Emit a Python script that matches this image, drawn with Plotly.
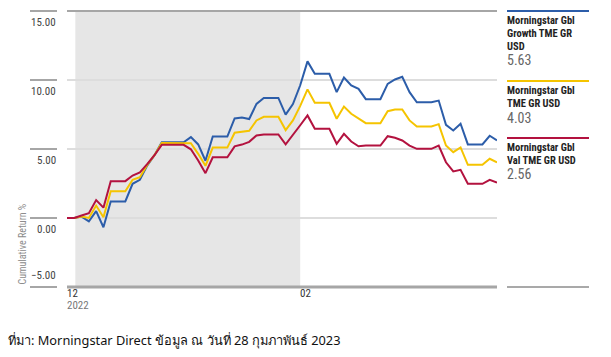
import plotly.graph_objects as go

# ---------------- data ----------------
period_index = list(range(60))
growth = [0, 0, 0.1, -0.25, 0.5, -0.67, 1.2, 1.2, 1.2, 2.48, 2.77, 3.8, 4.55, 5.49, 5.49, 5.49, 5.49,
          5.86, 5.33, 4.15, 5.9, 5.9, 5.9, 7.21, 7.28, 7.17, 8.27, 8.7, 8.7, 8.7, 7.49, 8.25, 9.62,
          11.35, 10.45, 10.45, 10.45, 9.12, 10.18, 9.6, 9.36, 8.61, 8.61, 8.61, 9.72, 10.04, 10.23,
          9.12, 8.39, 8.39, 8.39, 8.51, 6.75, 6.34, 6.83, 5.33, 5.33, 5.33, 5.96, 5.63]
core = [0, 0, 0.1, 0.0, 0.9, 0.05, 1.94, 1.94, 1.94, 2.77, 2.96, 3.85, 4.55, 5.43, 5.43, 5.43, 5.43,
        5.42, 4.65, 3.78, 5.1, 5.1, 5.1, 6.18, 6.25, 6.32, 7.07, 7.33, 7.33, 7.33, 6.37, 7.07, 8.12,
        9.32, 8.35, 8.35, 8.35, 7.19, 8.08, 7.55, 7.23, 6.87, 6.87, 6.87, 7.74, 7.86, 7.86,
        7.07, 6.63, 6.63, 6.63, 6.8, 5.25, 4.77, 5.11, 3.85, 3.85, 3.85, 4.29, 4.03]
value = [0, 0, 0.18, 0.35, 1.3, 0.75, 2.67, 2.67, 2.67, 3.08, 3.3, 3.9, 4.55, 5.3, 5.3, 5.3, 5.3,
         4.98, 4.17, 3.25, 4.4, 4.4, 4.4, 5.19, 5.32, 5.52, 5.98, 6.05, 6.05, 6.05, 5.33, 6.07, 6.72,
         7.43, 6.46, 6.46, 6.46, 5.38, 6.1, 5.54, 5.2, 5.25, 5.25, 5.25, 5.93, 5.81, 5.62,
         5.25, 5.01, 5.01, 5.01, 5.25, 4.04, 3.37, 3.49, 2.48, 2.48, 2.48, 2.77, 2.56]

series_names = [["Morningstar Gbl", "Growth TME GR", "USD"],
                ["Morningstar Gbl", "TME GR USD"],
                ["Morningstar Gbl", "Val TME GR USD"]]
series_values = [growth, core, value]
series_colors = ["#2C5DA9", "#F5C400", "#B3123F"]

y_ticks = [15, 10, 5, 0, -5]
y_tick_labels = ["15.00", "10.00", "5.00", "0.00", "\u22125.00"]
month_labels = ["12", "02"]
month_sub_labels = ["2022", ""]
month_start_index = [0, 32]
shade_start, shade_end = 1.14, 32.0

source_text = "ที่มา: Morningstar Direct ข้อมูล ณ วันที่ 28 กุมภาพันธ์ 2023"

# ---------------- layout helpers ----------------
W, H = 611, 357
L, R, T, B = 67, 497, 11, 287
YMIN, YMAX = -5, 15
XMIN, XMAX = 0, 59


def px(p):
    return (p - L) / (R - L)


def py(p):
    return (B - p) / (B - T)


def vy(v):
    return (v - YMIN) / (YMAX - YMIN)


NARROW = "Roboto Condensed, Open Sans Condensed, sans-serif"

fig = go.Figure()
for vals, names, col in zip(series_values, series_names, series_colors):
    fig.add_trace(go.Scatter(x=period_index, y=vals, mode="lines",
                             line=dict(color=col, width=2), name=" ".join(names),
                             hoverinfo="skip", showlegend=False))

shapes = []
annotations = []

# shaded month band
shapes.append(dict(type="rect", xref="x", yref="paper", x0=shade_start, x1=shade_end, y0=0, y1=1,
                   fillcolor="#E6E6E6", line=dict(width=0), layer="below"))

# y stubs and labels
for v, lab in zip(y_ticks, y_tick_labels):
    shapes.append(dict(type="line", xref="paper", yref="paper", x0=px(30), x1=px(57),
                       y0=vy(v), y1=vy(v), line=dict(color="#A6A6A6", width=2)))
    if v == YMIN:
        yanchor, yy = "bottom", vy(v) + 3 / (B - T)
    else:
        yanchor, yy = "top", vy(v) - 3 / (B - T)
    annotations.append(dict(text=lab, xref="paper", yref="paper", x=px(58), y=yy,
                            xanchor="right", yanchor=yanchor, showarrow=False,
                            font=dict(family=NARROW, size=11, color="#444444")))

# top and bottom frame lines
shapes.append(dict(type="line", xref="paper", yref="paper", x0=0, x1=1, y0=1, y1=1,
                   line=dict(color="#A6A6A6", width=2)))
shapes.append(dict(type="line", xref="paper", yref="paper", x0=0, x1=1, y0=0, y1=0,
                   line=dict(color="#A6A6A6", width=3)))

# axis title
annotations.append(dict(text="Cumulative Return %", xref="paper", yref="paper", x=px(22), y=py(287),
                        xanchor="center", yanchor="bottom", textangle=-90, showarrow=False,
                        font=dict(family=NARROW, size=10, color="#8C8C8C")))

# month labels
for idx, lab, sub in zip(month_start_index, month_labels, month_sub_labels):
    annotations.append(dict(text=lab, xref="x", yref="paper", x=idx, y=py(293),
                            xanchor="left", yanchor="middle", showarrow=False, xshift=-2,
                            font=dict(family=NARROW, size=11, color="#333333")))
    if sub:
        annotations.append(dict(text=sub, xref="x", yref="paper", x=idx, y=py(305),
                                xanchor="left", yanchor="middle", showarrow=False, xshift=-2,
                                font=dict(family=NARROW, size=11, color="#777777")))

# legend block
leg_line_y = [11, 81, 138]
leg_text_y = [[20, 33.3, 46.5], [90, 103.3], [147, 160.5]]
leg_val_y = [60, 117.5, 174]
for names, vals, col, ly, tys, vyy in zip(series_names, series_values, series_colors,
                                          leg_line_y, leg_text_y, leg_val_y):
    shapes.append(dict(type="line", xref="paper", yref="paper", x0=px(507), x1=px(589),
                       y0=py(ly), y1=py(ly), line=dict(color=col, width=2)))
    for nm, ty in zip(names, tys):
        annotations.append(dict(text="<b>" + nm + "</b>", xref="paper", yref="paper",
                                x=px(505), y=py(ty), xanchor="left", yanchor="middle",
                                showarrow=False,
                                font=dict(family=NARROW, size=10.5, color="#222222")))
    annotations.append(dict(text=f"{vals[-1]:.2f}", xref="paper", yref="paper",
                            x=px(505), y=py(vyy), xanchor="left", yanchor="middle",
                            showarrow=False,
                            font=dict(family=NARROW, size=14, color="#666666")))
shapes.append(dict(type="line", xref="paper", yref="paper", x0=px(507), x1=px(589),
                   y0=py(287), y1=py(287), line=dict(color="#8C8C8C", width=1.5)))

# source
annotations.append(dict(text=source_text, xref="paper", yref="paper", x=px(6), y=py(340),
                        xanchor="left", yanchor="middle", showarrow=False,
                        font=dict(family="Noto Sans, DejaVu Sans, sans-serif",
                                  size=12.8, color="#111111")))

fig.update_layout(
    width=W, height=H,
    margin=dict(l=L, r=W - R, t=T, b=H - B, pad=0),
    paper_bgcolor="white", plot_bgcolor="rgba(0,0,0,0)",
    xaxis=dict(range=[XMIN, XMAX], showgrid=False, zeroline=False, showticklabels=False,
               ticks="", showline=False, fixedrange=True),
    yaxis=dict(range=[YMIN, YMAX], tickvals=[10, 5, 0], showticklabels=False,
               gridcolor="#DDDDDD", gridwidth=2, zeroline=False, showline=False, ticks="",
               fixedrange=True, layer="above traces"),
    shapes=shapes, annotations=annotations, showlegend=False,
)

fig.write_html("out.html", config={"displayModeBar": False},
               post_script="document.body.style.margin='0';document.body.style.overflow='hidden';")
